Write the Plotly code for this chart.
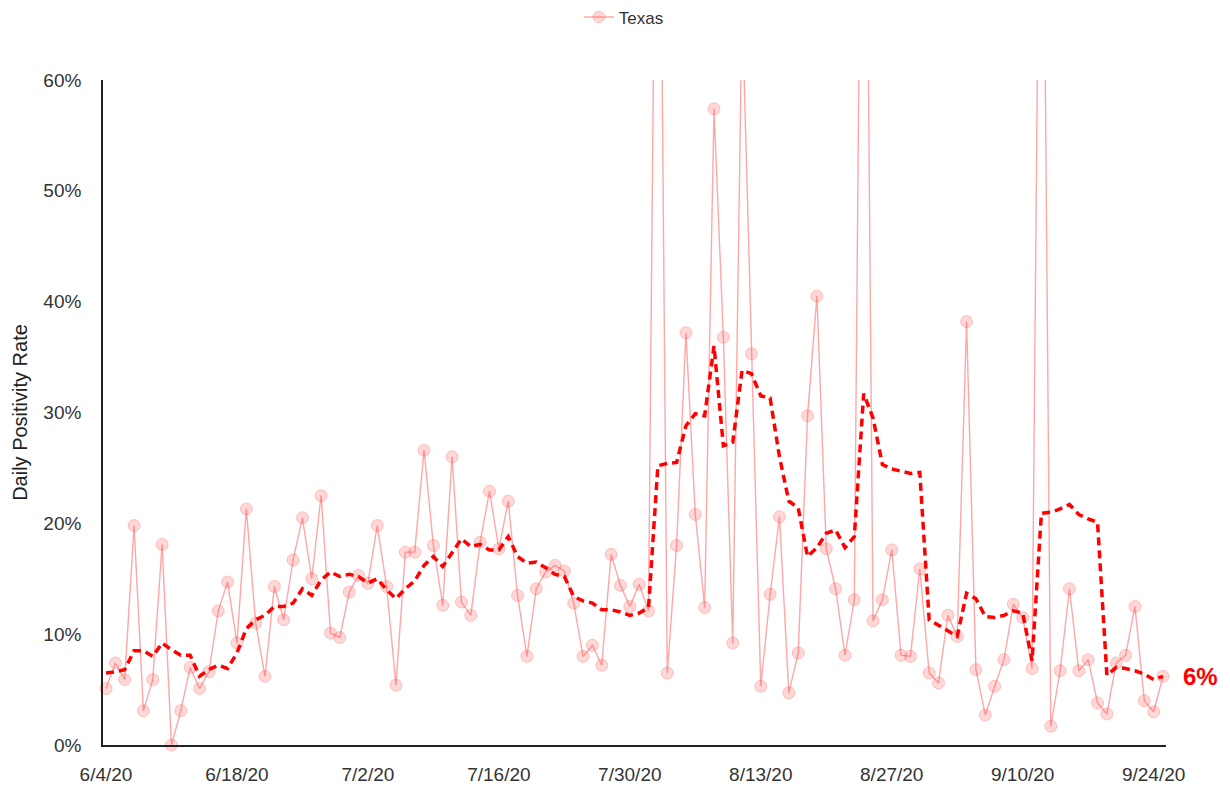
import numpy as np
import pandas as pd
import plotly.graph_objects as go

# ---- data ----
dates = pd.date_range("2020-06-04", "2020-09-25", freq="D")

texas_daily = [
    5.1, 7.4, 5.9, 19.8, 3.1, 5.9, 18.1, 0.0, 3.1, 7.0,
    5.1, 6.6, 12.1, 14.7, 9.2, 21.3, 11.0, 6.2, 14.3, 11.3,
    16.7, 20.5, 15.0, 22.5, 10.1, 9.7, 13.8, 15.3, 14.6, 19.8,
    14.3, 5.4, 17.4, 17.4, 26.6, 18.0, 12.6, 26.0, 12.9, 11.7,
    18.3, 22.9, 17.7, 22.0, 13.5, 8.0, 14.1, 15.6, 16.2, 15.7,
    12.8, 8.0, 9.0, 7.2, 17.2, 14.4, 12.5, 14.5, 12.1, 106.0,
    6.5, 18.0, 37.2, 20.8, 12.4, 57.4, 36.8, 9.2, 67.0, 35.3,
    5.3, 13.6, 20.6, 4.7, 8.3, 29.7, 40.5, 17.7, 14.1, 8.1,
    13.1, 111.0, 11.2, 13.1, 17.6, 8.1, 8.0, 15.9, 6.5, 5.6,
    11.7, 9.8, 38.2, 6.8, 2.7, 5.3, 7.7, 12.7, 11.5, 6.9,
    102.0, 1.7, 6.7, 14.1, 6.7, 7.7, 3.8, 2.8, 7.4, 8.1,
    12.5, 4.0, 3.0, 6.2,
]

texas_avg = [
    6.5, 6.6, 6.8, 8.5, 8.5, 8.0, 9.2, 8.6, 8.1, 8.1,
    6.2, 6.8, 7.2, 6.9, 8.3, 10.5, 11.3, 11.7, 12.5, 12.5,
    12.8, 14.1, 13.5, 14.9, 15.6, 15.2, 15.4, 15.2, 14.6, 15.0,
    14.0, 13.2, 14.1, 14.8, 16.2, 17.0, 16.1, 17.4, 18.6, 17.9,
    18.1, 17.6, 17.6, 18.8, 17.0, 16.4, 16.5, 16.0, 15.4, 15.2,
    13.4, 13.0, 12.8, 12.2, 12.2, 12.0, 11.7, 11.9, 12.4, 25.2,
    25.4, 25.5, 28.8, 29.9, 29.7, 36.0, 27.0, 27.3, 33.8, 33.5,
    31.5, 31.3, 26.0, 22.0, 21.4, 17.0, 17.8, 19.1, 19.4, 17.8,
    18.8, 31.7, 29.5, 25.3, 24.9, 24.7, 24.5, 24.6, 11.3, 10.8,
    10.3, 9.8, 13.7, 13.2, 11.6, 11.5, 11.7, 12.1, 11.9, 7.6,
    20.9, 21.0, 21.3, 21.7, 20.8, 20.4, 20.1, 6.3, 7.0, 6.9,
    6.7, 6.4, 5.9, 6.2,
]

tick_dates = ["2020-06-04", "2020-06-18", "2020-07-02", "2020-07-16", "2020-07-30",
              "2020-08-13", "2020-08-27", "2020-09-10", "2020-09-24"]
tick_labels = ["6/4/20", "6/18/20", "7/2/20", "7/16/20", "7/30/20",
               "8/13/20", "8/27/20", "9/10/20", "9/24/20"]
y_ticks = [0, 10, 20, 30, 40, 50, 60]
y_tick_labels = ["0%", "10%", "20%", "30%", "40%", "50%", "60%"]
end_label = "6%"

# ---- figure ----
Y_MAX = 60
FONT = "Liberation Sans, Arial, sans-serif"
daily = np.array(texas_daily)
marker_sizes = np.where(daily > Y_MAX, 0, 12)

fig = go.Figure()
fig.add_trace(go.Scatter(
    x=dates, y=daily, name="Texas", mode="lines+markers",
    line=dict(color="rgba(255,80,80,0.5)", width=1.4),
    marker=dict(size=marker_sizes, color="rgba(255,70,70,0.3)",
                line=dict(color="rgba(255,70,70,0.4)", width=1)),
    cliponaxis=False,
))
fig.add_trace(go.Scatter(
    x=dates, y=texas_avg, mode="lines", showlegend=False,
    line=dict(color="#ff0000", width=3.5, dash="8px,5px"),
))

fig.add_annotation(
    x=dates[-1], y=texas_avg[-1], text=f"<b>{end_label}</b>",
    showarrow=False, xanchor="left", yanchor="middle", xshift=18,
    font=dict(family=FONT, size=24, color="#ff0000"),
)

fig.update_layout(
    width=1230, height=790,
    margin=dict(l=103, r=64, t=80, b=45, autoexpand=False),
    paper_bgcolor="white", plot_bgcolor="white",
    font=dict(family=FONT, size=19, color="#333333"),
    showlegend=True,
    legend=dict(orientation="h", x=0.49, xanchor="center", yref="container",
                y=0.978, yanchor="middle", font=dict(size=17, color="#333333"),
                bgcolor="rgba(0,0,0,0)"),
)
fig.update_xaxes(
    type="date",
    range=["2020-06-03 16:20", "2020-09-25 07:40"],
    tickvals=tick_dates, ticktext=tick_labels,
    showgrid=False, zeroline=False, automargin=False,
    showline=True, linecolor="#222222", linewidth=1.6,
    ticks="", ticklabelstandoff=11,
    tickfont=dict(size=19, color="#333333"),
)
fig.update_yaxes(
    range=[0, Y_MAX],
    tickvals=y_ticks, ticktext=y_tick_labels,
    showgrid=False, zeroline=False, automargin=False,
    showline=True, linecolor="#222222", linewidth=1.6,
    ticks="", ticklabelstandoff=16,
    tickfont=dict(size=19, color="#333333"),
    title=dict(text="Daily Positivity Rate", standoff=10,
               font=dict(size=20, color="#222222")),
)

fig.write_html("out.html",
               config={"displayModeBar": False},
               post_script="document.body.style.margin='0';document.body.style.padding='0';")
